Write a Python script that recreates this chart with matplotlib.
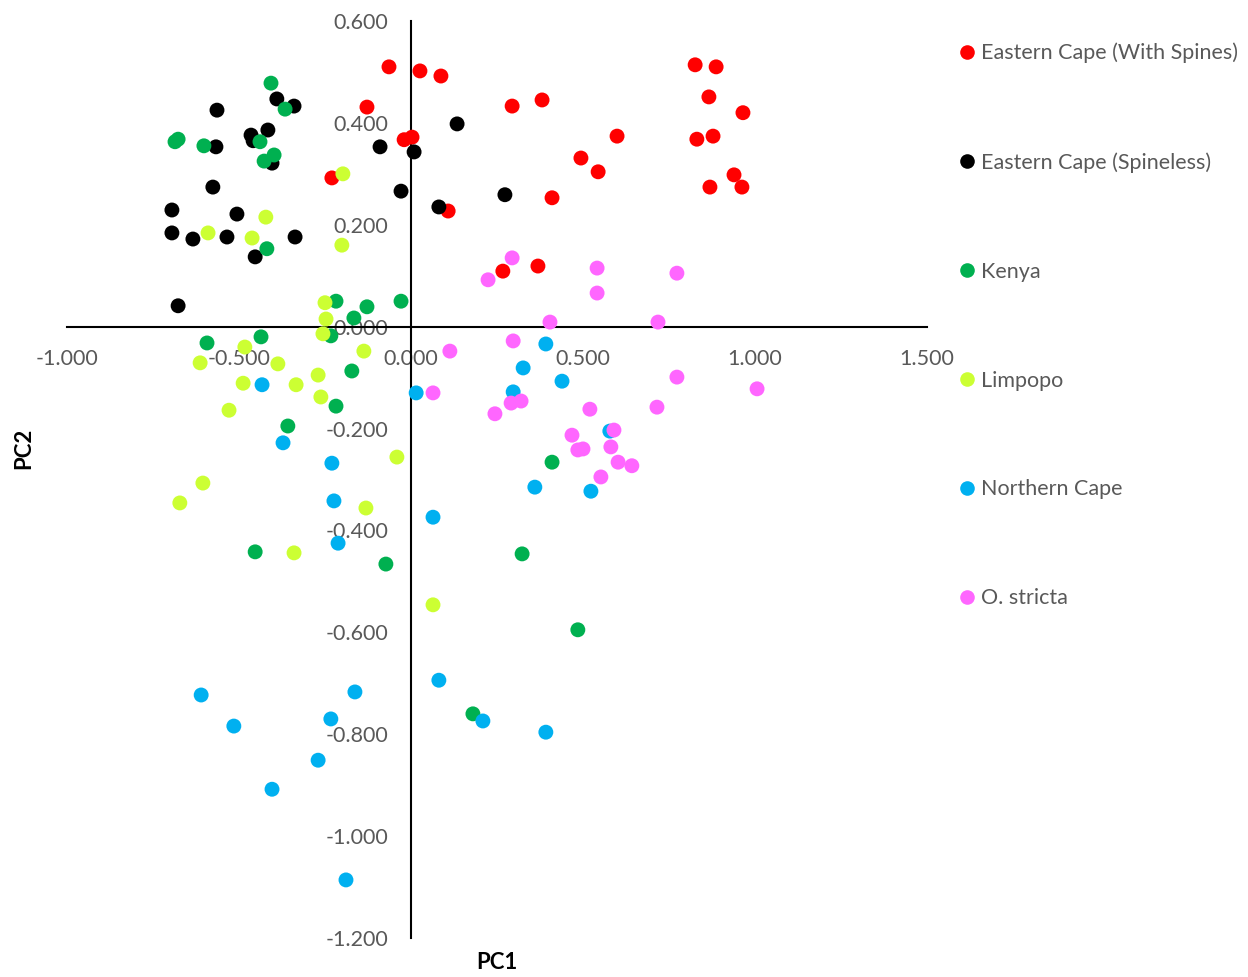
import matplotlib
matplotlib.use("Agg")
import matplotlib.pyplot as plt
from matplotlib.lines import Line2D

plt.rcParams['font.family'] = ['Lato', 'DejaVu Sans']

series_names = ["Eastern Cape (With Spines)", "Eastern Cape (Spineless)", "Kenya",
                "Limpopo", "Northern Cape", "O. stricta"]
series_colors = ["#FF0000", "#000000", "#00B050", "#CCFF33", "#00B0F0", "#FF66FF"]

ec_spines_x = [-0.064, 0.026, 0.087, -0.128, 0.294, 0.381, -0.020, 0.003, -0.230, 0.108,
               0.599, 0.494, 0.544, 0.410, 0.826, 0.887, 0.866, 0.965, 0.831, 0.878,
               0.939, 0.962, 0.869, 0.267, 0.369]
ec_spines_y = [0.510, 0.502, 0.492, 0.431, 0.433, 0.445, 0.367, 0.372, 0.292, 0.227,
               0.374, 0.331, 0.304, 0.253, 0.514, 0.510, 0.451, 0.420, 0.368, 0.374,
               0.298, 0.274, 0.274, 0.109, 0.119]

ec_spineless_x = [-0.564, -0.390, -0.340, -0.465, -0.459, -0.416, -0.404, -0.567, -0.090, 0.009,
                  -0.029, -0.576, -0.695, -0.506, -0.695, -0.634, -0.535, -0.337, -0.453, -0.677,
                  0.134, 0.081, 0.273]
ec_spineless_y = [0.425, 0.447, 0.433, 0.376, 0.365, 0.386, 0.321, 0.353, 0.353, 0.343,
                  0.266, 0.274, 0.229, 0.221, 0.184, 0.172, 0.176, 0.176, 0.137, 0.041,
                  0.398, 0.235, 0.259]

kenya_x = [-0.407, -0.366, -0.686, -0.677, -0.602, -0.439, -0.427, -0.398, -0.419, -0.218,
           -0.128, -0.029, -0.166, -0.233, -0.593, -0.436, -0.172, -0.218, -0.358, -0.453,
           -0.073, 0.410, 0.323, 0.485, 0.180]
kenya_y = [0.478, 0.427, 0.363, 0.368, 0.355, 0.363, 0.325, 0.337, 0.153, 0.050,
           0.039, 0.050, 0.017, -0.018, -0.032, -0.020, -0.087, -0.156, -0.195, -0.442,
           -0.466, -0.266, -0.446, -0.595, -0.760]

limpopo_x = [-0.198, -0.422, -0.590, -0.462, -0.201, -0.250, -0.247, -0.256, -0.483, -0.613,
             -0.387, -0.137, -0.270, -0.488, -0.334, -0.262, -0.529, -0.041, -0.605, -0.672,
             -0.131, -0.340, 0.064]
limpopo_y = [0.300, 0.215, 0.184, 0.174, 0.160, 0.047, 0.015, -0.014, -0.040, -0.071,
             -0.073, -0.048, -0.095, -0.111, -0.114, -0.138, -0.164, -0.256, -0.307, -0.346,
             -0.356, -0.444, -0.546]

ncape_x = [-0.433, -0.372, -0.230, -0.224, -0.212, 0.064, 0.015, 0.392, 0.326, 0.439,
           0.297, 0.578, 0.360, 0.523, -0.610, -0.515, -0.163, -0.233, -0.270, -0.404,
           -0.189, 0.081, 0.209, 0.392]
ncape_y = [-0.114, -0.228, -0.268, -0.342, -0.425, -0.374, -0.130, -0.034, -0.081, -0.107,
           -0.128, -0.205, -0.315, -0.323, -0.723, -0.784, -0.717, -0.770, -0.851, -0.908,
           -1.086, -0.694, -0.774, -0.796]

stricta_x = [0.294, 0.224, 0.541, 0.773, 0.541, 0.404, 0.718, 0.297, 0.113, 0.064,
             0.773, 1.006, 0.291, 0.320, 0.244, 0.520, 0.715, 0.468, 0.590, 0.485,
             0.500, 0.581, 0.602, 0.642, 0.552]
stricta_y = [0.135, 0.092, 0.115, 0.105, 0.066, 0.009, 0.009, -0.028, -0.048, -0.130,
             -0.099, -0.122, -0.150, -0.146, -0.171, -0.162, -0.158, -0.213, -0.203, -0.242,
             -0.240, -0.236, -0.266, -0.273, -0.295]

xs = [ec_spines_x, ec_spineless_x, kenya_x, limpopo_x, ncape_x, stricta_x]
ys = [ec_spines_y, ec_spineless_y, kenya_y, limpopo_y, ncape_y, stricta_y]

x_ticks = [-1.0, -0.5, 0.0, 0.5, 1.0, 1.5]
y_ticks = [-1.2, -1.0, -0.8, -0.6, -0.4, -0.2, 0.0, 0.2, 0.4, 0.6]

W, H = 1248, 977
fig = plt.figure(figsize=(W / 100, H / 100), dpi=100)
ax = fig.add_axes([67 / W, (H - 938) / H, 860 / W, 917 / H])

for x, y, c in zip(xs, ys, series_colors):
    ax.scatter(x, y, s=115, color=c, edgecolors='none', zorder=3)

ax.set_xlim(-1.0, 1.5)
ax.set_ylim(-1.2, 0.6)
ax.set_xticks(x_ticks)
ax.set_yticks(y_ticks)
ax.set_xticklabels([f"{v:.3f}" for v in x_ticks])
ax.set_yticklabels([f"{v:.3f}" for v in y_ticks])

for s in ['top', 'right']:
    ax.spines[s].set_visible(False)
ax.spines['left'].set_position(('data', 0))
ax.spines['bottom'].set_position(('data', 0))
for s in ['left', 'bottom']:
    ax.spines[s].set_linewidth(1.5)
    ax.spines[s].set_color('black')
    ax.spines[s].set_zorder(2)

ax.tick_params(axis='both', length=0, labelsize=15.5, labelcolor='#595959')
ax.tick_params(axis='x', pad=16)
ax.tick_params(axis='y', pad=16.5)

ax.set_xlabel("PC1", fontsize=16, fontweight='bold', color='black')
ax.set_ylabel("PC2", fontsize=16, fontweight='bold', color='black')
ax.xaxis.set_label_coords(0.5, -0.0155)
ax.yaxis.set_label_coords(-0.038, 0.534)

handles = [Line2D([0], [0], marker='o', linestyle='none', markersize=10.5,
                  markerfacecolor=c, markeredgecolor='none') for c in series_colors]
fig.legend(handles, series_names, loc='upper left', bbox_to_anchor=(947 / W, 1 - 34 / H),
           frameon=False, fontsize=15.5, labelcolor='#595959', labelspacing=4.13,
           handletextpad=0.1, handlelength=1.1, borderaxespad=0)

fig.savefig("out.png", dpi=100)
